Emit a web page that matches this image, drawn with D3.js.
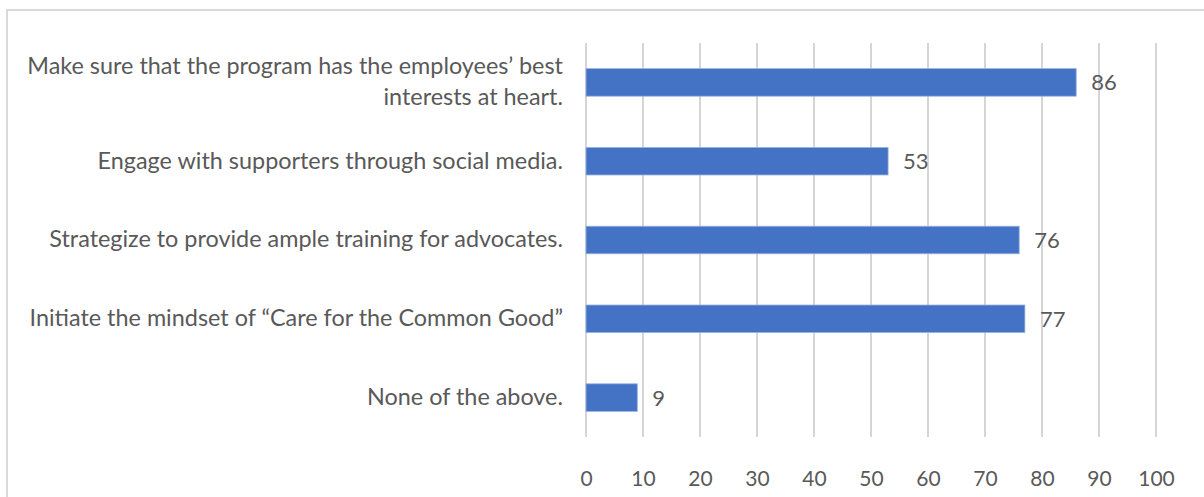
<!DOCTYPE html>
<html>
<head>
<meta charset="utf-8">
<script src="https://cdn.jsdelivr.net/npm/d3@7"></script>
<style>
  html, body { margin: 0; padding: 0; background: #fff; }
  svg { display: block; }
  text { font-family: Lato, "Open Sans", sans-serif; fill: #595959; }
</style>
</head>
<body>
<svg id="chart" width="1204" height="497"></svg>
<script>
// Survey responses: suggested actions for the advocacy program
const categories = [
  ["Make sure that the program has the employees\u2019 best", "interests at heart."],
  ["Engage with supporters through social media."],
  ["Strategize to provide ample training for advocates."],
  ["Initiate the mindset of \u201cCare for the Common Good\u201d"],
  ["None of the above."]
];
const values = [86, 53, 76, 77, 9];
const tickValues = [0, 10, 20, 30, 40, 50, 60, 70, 80, 90, 100];

const W = 1204, H = 497;
const plot = { left: 586, right: 1156, top: 43, bottom: 437 };
const svg = d3.select("#chart");

// outer frame (top and left edges)
svg.append("path")
  .attr("d", `M7,${H} L7,10 L${W},10`)
  .attr("fill", "none")
  .attr("stroke", "#d9d9d9")
  .attr("stroke-width", 2);

const x = d3.scaleLinear().domain([0, 100]).range([plot.left, plot.right]);
const y = d3.scaleBand()
  .domain(d3.range(categories.length))
  .range([plot.top, plot.bottom])
  .paddingInner(0.65)
  .paddingOuter(0.325);

// vertical gridlines
svg.append("g")
  .selectAll("line")
  .data(tickValues)
  .join("line")
  .attr("x1", d => x(d)).attr("x2", d => x(d))
  .attr("y1", plot.top).attr("y2", plot.bottom)
  .attr("stroke", "#d5d5d5")
  .attr("stroke-width", 2);

// x axis tick labels
const xAxis = d3.axisBottom(x).tickValues(tickValues).tickSize(0).tickPadding(0);
const gx = svg.append("g")
  .attr("transform", `translate(0,${plot.bottom})`)
  .call(xAxis);
gx.select(".domain").remove();
gx.selectAll("text")
  .attr("y", 34)
  .attr("dy", "0.71em")
  .attr("fill", "#595959")
  .style("font-family", "Lato, sans-serif")
  .style("font-size", "21px");

// bars
svg.append("g")
  .selectAll("rect")
  .data(values)
  .join("rect")
  .attr("x", x(0))
  .attr("y", (d, i) => y(i))
  .attr("width", d => x(d) - x(0))
  .attr("height", y.bandwidth())
  .attr("fill", "#4472c4")
  .attr("stroke", "#9bb3e0")
  .attr("stroke-width", 0.8);

// value labels
svg.append("g")
  .selectAll("text")
  .data(values)
  .join("text")
  .attr("x", d => x(d) + 15)
  .attr("y", (d, i) => y(i) + y.bandwidth() / 2)
  .attr("dy", "0.36em")
  .style("font-size", "22px")
  .text(d => d);

// category labels (right-aligned, possibly wrapped)
const lineH = 31;
const cat = svg.append("g")
  .selectAll("text")
  .data(categories)
  .join("text")
  .attr("text-anchor", "end")
  .style("font-size", "23.4px")
  .attr("transform", (d, i) => `translate(563,${y(i) + y.bandwidth() / 2})`);
cat.selectAll("tspan")
  .data(d => d.map((t, k) => ({ t, k, n: d.length })))
  .join("tspan")
  .attr("x", 0)
  .attr("y", d => (d.k - (d.n - 1) / 2) * lineH - 1)
  .attr("dy", "0.36em")
  .text(d => d.t);
</script>
</body>
</html>
